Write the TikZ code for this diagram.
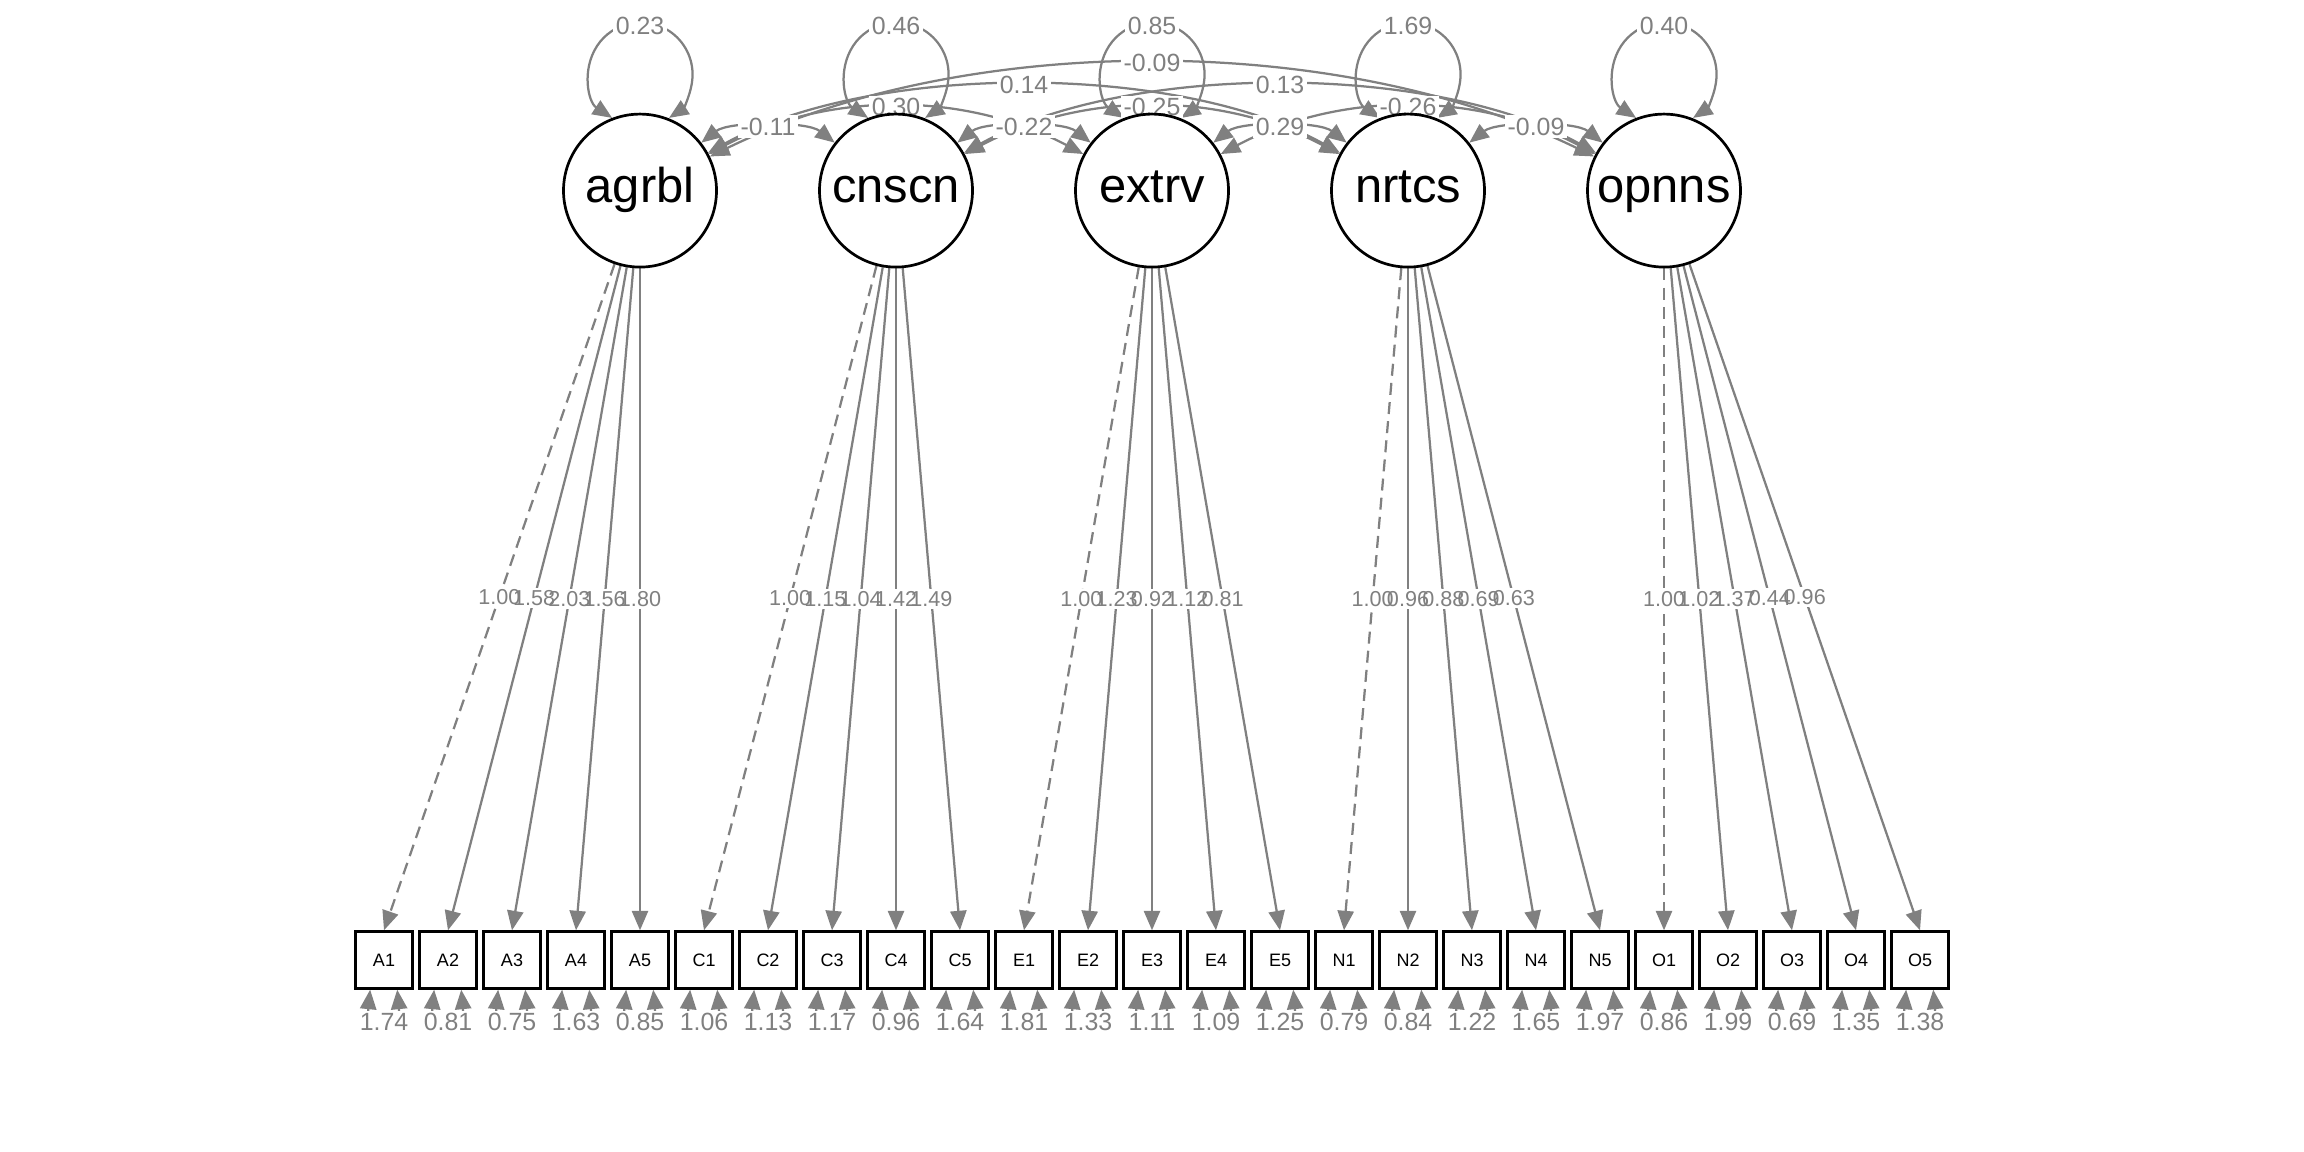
\documentclass[tikz,border=0pt]{standalone}
\usepackage{fontspec}
\setmainfont{Liberation Sans}
\usetikzlibrary{arrows.meta,calc}
\pgfdeclarelayer{fg}
\pgfsetlayers{main,fg}
\tikzset{
  latent/.style={circle,draw=black,line width=0.9pt,minimum size=51pt,inner sep=0pt,text height=0.78em,text depth=0pt,font=\fontsize{16.3}{19}\selectfont},
  manifest/.style={rectangle,draw=black,line width=0.9pt,minimum size=18.9pt,inner sep=0pt,font=\fontsize{6}{7}\selectfont},
  ln/.style={draw=gray,line width=0.75pt},
  load/.style={ln,->},
  fixload/.style={load,dash pattern=on 4pt off 2.4pt},
  cov/.style={ln,<->},
  lblbg/.style={fill=white,inner sep=0.8pt,font=\fontsize{8.3}{9}\selectfont},
  lbltx/.style={text=gray,inner sep=0.8pt,font=\fontsize{8.3}{9}\selectfont},
  ldbg/.style={fill=white,inner sep=0.8pt,font=\fontsize{7.2}{8}\selectfont},
  ldtx/.style={text=gray,inner sep=0.8pt,font=\fontsize{7.2}{8}\selectfont},
  >={Triangle[length=6.5pt,width=5.4pt]},
}
\begin{document}
\begin{tikzpicture}[x=0.33333pt,y=0.33333pt]
\useasboundingbox (0,0) rectangle (2304,1152);
% nodes (drawn on top)
\begin{pgfonlayer}{fg}
\foreach \n [count=\k from 0] in {agrbl,cnscn,extrv,nrtcs,opnns}
  \node[latent] (\n) at (640+256*\k,961.4) {\n};
\foreach \n [count=\i from 0] in {A1,A2,A3,A4,A5,C1,C2,C3,C4,C5,E1,E2,E3,E4,E5,N1,N2,N3,N4,N5,O1,O2,O3,O4,O5}
  \node[manifest] (\n) at (384+64*\i,192) {\n};
\end{pgfonlayer}
% loadings
\foreach \lat/\L in {agrbl/A,cnscn/C,extrv/E,nrtcs/N,opnns/O}{
  \draw[fixload] (\lat) -- coordinate[pos=0.5] (m\L1) (\L1.north);
  \foreach \j in {2,3,4,5}
    \draw[load] (\lat) -- coordinate[pos=0.5] (m\L\j) (\L\j.north);
}
% covariances
\draw[cov] (agrbl) to[out=38,in=142,distance=11.7pt] coordinate[pos=0.5] (cAC) (cnscn);
\draw[cov] (cnscn) to[out=38,in=142,distance=11.7pt] coordinate[pos=0.5] (cCE) (extrv);
\draw[cov] (extrv) to[out=38,in=142,distance=11.7pt] coordinate[pos=0.5] (cEN) (nrtcs);
\draw[cov] (nrtcs) to[out=38,in=142,distance=11.7pt] coordinate[pos=0.5] (cNO) (opnns);
\draw[cov] (agrbl) to[out=28,in=152,distance=44.7pt] coordinate[pos=0.5] (cAE) (extrv);
\draw[cov] (cnscn) to[out=28,in=152,distance=44.7pt] coordinate[pos=0.5] (cCN) (nrtcs);
\draw[cov] (extrv) to[out=28,in=152,distance=44.7pt] coordinate[pos=0.5] (cEO) (opnns);
\draw[cov] (agrbl) to[out=29,in=151,distance=62.3pt] coordinate[pos=0.5] (cAN) (nrtcs);
\draw[cov] (cnscn) to[out=29,in=151,distance=62.3pt] coordinate[pos=0.5] (cCO) (opnns);
\draw[cov] (agrbl) to[out=26,in=154,distance=95pt] coordinate[pos=0.5] (cAO) (opnns);
% latent variances
\foreach \n in {agrbl,cnscn,extrv,nrtcs,opnns}{
  \draw[cov] (\n.111.6) arc[start angle=236.8,end angle=-56.8,radius=17.33pt];
  \coordinate (v\n) at ($(\n)+(0,164.6)$);
}
% residual variances
\foreach \n in {A1,A2,A3,A4,A5,C1,C2,C3,C4,C5,E1,E2,E3,E4,E5,N1,N2,N3,N4,N5,O1,O2,O3,O4,O5}{
  \draw[cov] (\n.245.4) .. controls +(-4,-40) and +(4,-40) .. (\n.294.6);
  \coordinate (r\n) at ($(\n)+(0,-62)$);
}
% label backgrounds
\foreach \m/\t in {mA1/1.00,mA2/1.58,mA3/2.03,mA4/1.56,mA5/1.80,
                   mC1/1.00,mC2/1.15,mC3/1.04,mC4/1.42,mC5/1.49,
                   mE1/1.00,mE2/1.23,mE3/0.92,mE4/1.12,mE5/0.81,
                   mN1/1.00,mN2/0.96,mN3/0.88,mN4/0.69,mN5/0.63,
                   mO1/1.00,mO2/1.02,mO3/1.37,mO4/0.44,mO5/0.96}
  \node[ldbg] (b\m) at (\m) {\phantom{\t}};
\foreach \m/\t in {cAC/-0.11,cCE/-0.22,cEN/0.29,cNO/-0.09,cAE/0.30,cCN/-0.25,cEO/-0.26,cAN/0.14,cCO/0.13,cAO/-0.09,
                   vagrbl/0.23,vcnscn/0.46,vextrv/0.85,vnrtcs/1.69,vopnns/0.40,
                   rA1/1.74,rA2/0.81,rA3/0.75,rA4/1.63,rA5/0.85,
                   rC1/1.06,rC2/1.13,rC3/1.17,rC4/0.96,rC5/1.64,
                   rE1/1.81,rE2/1.33,rE3/1.11,rE4/1.09,rE5/1.25,
                   rN1/0.79,rN2/0.84,rN3/1.22,rN4/1.65,rN5/1.97,
                   rO1/0.86,rO2/1.99,rO3/0.69,rO4/1.35,rO5/1.38}
  \node[lblbg] (b\m) at (\m) {\phantom{\t}};
% label texts
\foreach \m/\t in {mA1/1.00,mA2/1.58,mA3/2.03,mA4/1.56,mA5/1.80,
                   mC1/1.00,mC2/1.15,mC3/1.04,mC4/1.42,mC5/1.49,
                   mE1/1.00,mE2/1.23,mE3/0.92,mE4/1.12,mE5/0.81,
                   mN1/1.00,mN2/0.96,mN3/0.88,mN4/0.69,mN5/0.63,
                   mO1/1.00,mO2/1.02,mO3/1.37,mO4/0.44,mO5/0.96}
  \node[ldtx] (t\m) at (\m) {\t};
\foreach \m/\t in {cAC/-0.11,cCE/-0.22,cEN/0.29,cNO/-0.09,cAE/0.30,cCN/-0.25,cEO/-0.26,cAN/0.14,cCO/0.13,cAO/-0.09,
                   vagrbl/0.23,vcnscn/0.46,vextrv/0.85,vnrtcs/1.69,vopnns/0.40,
                   rA1/1.74,rA2/0.81,rA3/0.75,rA4/1.63,rA5/0.85,
                   rC1/1.06,rC2/1.13,rC3/1.17,rC4/0.96,rC5/1.64,
                   rE1/1.81,rE2/1.33,rE3/1.11,rE4/1.09,rE5/1.25,
                   rN1/0.79,rN2/0.84,rN3/1.22,rN4/1.65,rN5/1.97,
                   rO1/0.86,rO2/1.99,rO3/0.69,rO4/1.35,rO5/1.38}
  \node[lbltx] (t\m) at (\m) {\t};
\end{tikzpicture}
\end{document}
